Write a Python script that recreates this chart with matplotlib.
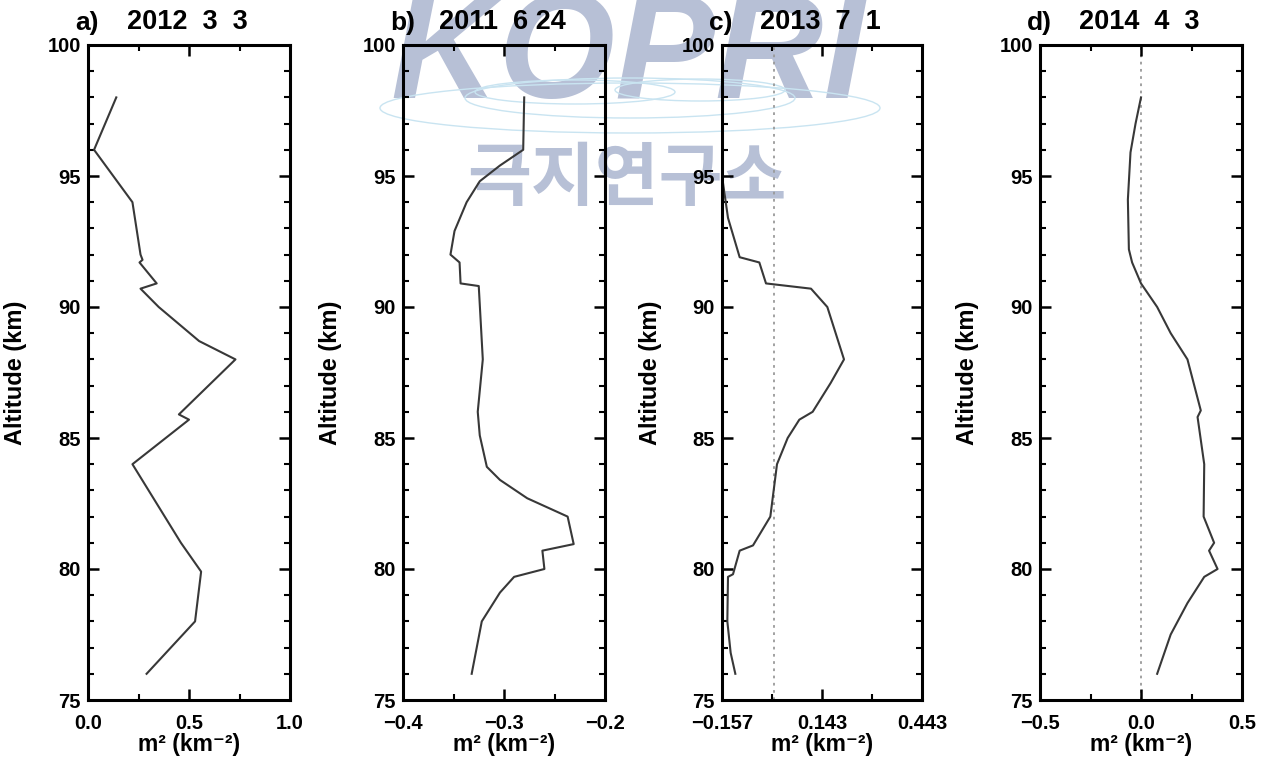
import matplotlib
matplotlib.use("Agg")
import matplotlib.pyplot as plt
from matplotlib.patches import Ellipse
from matplotlib.ticker import FixedLocator, MultipleLocator

plt.rcParams['font.family'] = ['Liberation Sans', 'DejaVu Sans']
plt.rcParams['font.weight'] = 'bold'

# Profiles of m^2 (km^-2) versus altitude (km)
alt_a = [98.0, 96.0, 94.0, 92.0, 91.8, 91.7, 90.9, 90.7, 90.0, 88.7, 88.0,
         85.9, 85.7, 84.0, 81.0, 79.9, 78.0, 76.0]
m2_a = [0.14, 0.03, 0.22, 0.26, 0.27, 0.255, 0.34, 0.26, 0.35, 0.55, 0.73,
        0.45, 0.50, 0.22, 0.46, 0.56, 0.53, 0.29]

alt_b = [98.0, 96.0, 95.4, 94.8, 94.0, 92.9, 92.0, 91.7, 90.9, 90.8, 88.0,
         86.0, 85.1, 83.9, 83.4, 82.7, 82.0, 80.95, 80.7, 80.0, 79.7, 79.1,
         78.0, 76.0]
m2_b = [-0.280, -0.281, -0.304, -0.324, -0.337, -0.349, -0.353, -0.344,
        -0.343, -0.325, -0.321, -0.326, -0.324, -0.317, -0.304, -0.277,
        -0.237, -0.231, -0.262, -0.260, -0.290, -0.304, -0.322, -0.332]

alt_c = [98.0, 96.0, 95.0, 93.4, 91.9, 91.7, 90.9, 90.7, 90.0, 88.0, 87.1,
         86.0, 85.7, 85.0, 84.0, 82.0, 80.9, 80.7, 79.8, 79.7, 78.0, 76.8,
         76.0]
m2_c = [-0.21, -0.18, -0.157, -0.139, -0.104, -0.045, -0.025, 0.110, 0.159,
        0.209, 0.169, 0.115, 0.075, 0.040, 0.008, -0.012, -0.064, -0.104,
        -0.124, -0.139, -0.141, -0.131, -0.117]

alt_d = [98.0, 97.0, 95.9, 94.1, 92.2, 91.7, 90.9, 90.0, 89.0, 88.0, 86.05,
         85.8, 84.0, 82.0, 81.0, 80.7, 80.0, 79.7, 78.7, 77.5, 76.0]
m2_d = [0.00, -0.027, -0.052, -0.065, -0.060, -0.044, 0.0, 0.08, 0.147,
        0.23, 0.296, 0.28, 0.313, 0.31, 0.362, 0.337, 0.379, 0.313, 0.23,
        0.147, 0.08]

panel_letters = ['a)', 'b)', 'c)', 'd)']
dates = ['2012  3  3', '2011  6 24', '2013  7  1', '2014  4  3']
xlims = [(0.0, 1.0), (-0.4, -0.2), (-0.157, 0.443), (-0.5, 0.5)]
xmajor = [[0.0, 0.5, 1.0], [-0.4, -0.3, -0.2], [-0.157, 0.143, 0.443],
          [-0.5, 0.0, 0.5]]
xminor = [[0.25, 0.75], [-0.35, -0.25], [-0.007, 0.293], [-0.25, 0.25]]
xticklabels = [['0.0', '0.5', '1.0'], ['\u22120.4', '\u22120.3', '\u22120.2'],
               ['\u22120.157', '0.143', '0.443'], ['\u22120.5', '0.0', '0.5']]
zero_line = [False, False, True, True]
yticks = [75, 80, 85, 90, 95, 100]

profiles = [(m2_a, alt_a), (m2_b, alt_b), (m2_c, alt_c), (m2_d, alt_d)]

W, H = 1268, 764
fig = plt.figure(figsize=(W / 100, H / 100), dpi=100)

lefts = [88, 403, 722, 1040]
widths = [202, 202, 200, 202]
top_px, bot_px = 45, 700

for i in range(4):
    ax = fig.add_axes([lefts[i] / W, 1 - bot_px / H, widths[i] / W,
                       (bot_px - top_px) / H])
    ax.set_facecolor('none')
    x, y = profiles[i]
    if zero_line[i]:
        ax.axvline(0.0, color='#9a9a9a', lw=1.3, ls=(0, (1.5, 2.5)), zorder=1)
    ax.plot(x, y, color='#383838', lw=1.5, zorder=2)
    ax.set_xlim(*xlims[i])
    ax.set_ylim(75, 100)
    ax.xaxis.set_major_locator(FixedLocator(xmajor[i]))
    ax.xaxis.set_minor_locator(FixedLocator(xminor[i]))
    ax.set_xticklabels(xticklabels[i])
    ax.set_yticks(yticks)
    ax.yaxis.set_minor_locator(MultipleLocator(1))
    ax.tick_params(which='both', direction='in', top=True, right=True,
                   colors='black', labelsize=14.5)
    ax.tick_params(which='major', length=8, width=1.8)
    ax.tick_params(which='minor', length=4, width=1.5)
    ax.tick_params(axis='x', which='major', pad=10)
    ax.tick_params(axis='y', which='major', pad=5)
    for lab in ax.get_xticklabels() + ax.get_yticklabels():
        lab.set_fontweight('bold')
    for s in ax.spines.values():
        s.set_linewidth(2.2)
    ax.set_xlabel('m\u00b2 (km\u207b\u00b2)', fontsize=16.5,
                  fontweight='bold', labelpad=0)
    ax.set_ylabel('Altitude (km)', fontsize=17, fontweight='bold')
    ax.yaxis.set_label_coords(-0.30, 0.5)
    ax.text(-0.065, 1.016, panel_letters[i], transform=ax.transAxes,
            ha='left', va='bottom', fontsize=19, fontweight='bold',
            zorder=5)
    ax.text(0.49, 1.016, dates[i], transform=ax.transAxes,
            ha='center', va='bottom', fontsize=19.5, fontweight='bold',
            zorder=5)

# Institute watermark
wm_col = '#b7c0d6'
fig.text(628 / W, 1 - 98 / H, 'KOPRI', ha='center', va='baseline',
         fontsize=108, fontweight='bold', style='italic', color=wm_col,
         family=['Liberation Sans', 'DejaVu Sans'], zorder=-2)
fig.text(627 / W, 1 - 180 / H, '극지연구소', ha='center', va='center',
         fontsize=50, fontweight='bold', color=wm_col,
         family=['Noto Sans CJK KR', 'DejaVu Sans'], zorder=-2)
globe_col = '#c9e4f1'
for cx, cy, w, h in [(630, 108, 500, 50), (630, 98, 330, 40),
                     (700, 90, 170, 22), (575, 92, 200, 24)]:
    fig.add_artist(Ellipse((cx / W, 1 - cy / H), w / W, h / H, fill=False,
                           ec=globe_col, lw=1.0, zorder=-1,
                           transform=fig.transFigure))

fig.savefig('out.png', dpi=100)
